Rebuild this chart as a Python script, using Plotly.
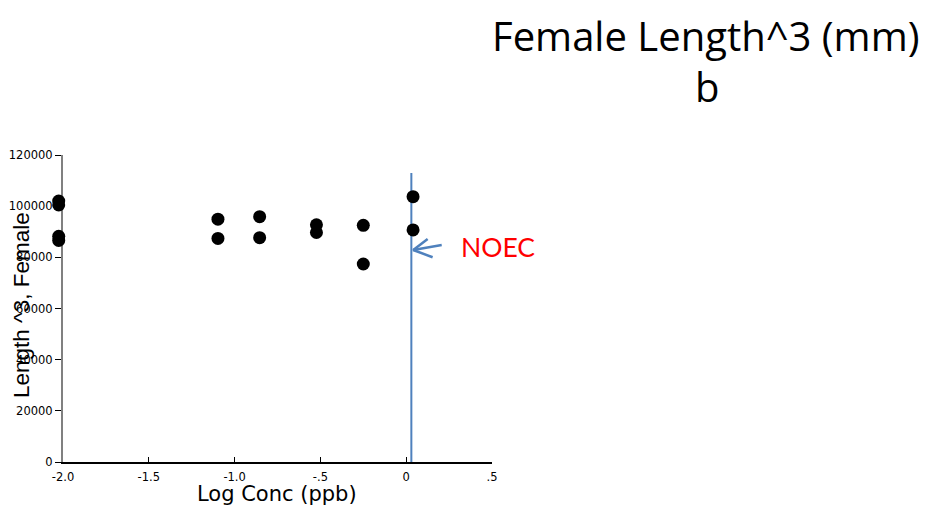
import plotly.graph_objects as go

# data
log_conc = [-2.025, -2.025, -2.025, -2.025,
            -1.097, -1.097, -0.854, -0.854,
            -0.523, -0.523, -0.25, -0.25,
            0.04, 0.04]
length3 = [102000, 100500, 88200, 86600,
           94900, 87400, 95900, 87700,
           92700, 89700, 92500, 77400,
           103700, 90700]

noec_x = [0.03, 0.03]
noec_y = [0, 113000]

# open arrow pointing at the NOEC line: arm, tip, arm, gap, tip, tail
arrow_x = [0.125, 0.041, 0.154, None, 0.041, 0.207]
arrow_y = [87170, 82870, 80020, None, 82870, 84830]

x_ticks = [-2.0, -1.5, -1.0, -0.5, 0, 0.5]
x_labels = ["-2.0", "-1.5", "-1.0", "-.5", "0", ".5"]
y_ticks = [0, 20000, 40000, 60000, 80000, 100000, 120000]
y_labels = [str(v) for v in y_ticks]

BLUE = "#4F81BD"
OFF = 8                 # the page body adds an 8px margin around the figure
W, H = 932 - 2 * OFF, 512 - OFF
# positions below are in screen pixels of the target picture
PLOT_L, PLOT_R, PLOT_T, PLOT_B = 40, 492, 155, 462
AXIS_LEFT = 63          # where the y axis sits (x = -2.0)
X_MIN, X_MAX = -2.0, 0.5

M_L, M_T = PLOT_L - OFF, PLOT_T - OFF
M_R, M_B = W - (PLOT_R - OFF), H - (PLOT_B - OFF)
plot_w = PLOT_R - PLOT_L
plot_h = PLOT_B - PLOT_T
px_per_unit = (PLOT_R - AXIS_LEFT) / (X_MAX - X_MIN)


def px(x, y):
    """screen pixel -> paper coordinates"""
    return (x - PLOT_L) / plot_w, (PLOT_B - y) / plot_h


fig = go.Figure()
fig.add_trace(
    go.Scatter(
        x=noec_x, y=noec_y, mode="lines",
        line={"color": BLUE, "width": 2},
        hoverinfo="skip",
    )
)
fig.add_trace(
    go.Scatter(
        x=arrow_x, y=arrow_y, mode="lines",
        line={"color": BLUE, "width": 2.5},
        cliponaxis=False, hoverinfo="skip",
    )
)
# dots sit on a hidden axis that reaches a little left of -2.0,
# so the control points left of the y axis are still drawn
fig.add_trace(
    go.Scatter(
        x=log_conc, y=length3, mode="markers",
        marker={"color": "black", "size": 13},
        cliponaxis=False, xaxis="x2",
    )
)

fig.add_annotation(
    x=0.31, y=84050, xref="x", yref="y",
    text="NOEC", showarrow=False, xanchor="left", yanchor="middle",
    font={"family": "Lato", "size": 26.5, "color": "#FF0000"},
)
title_font = {"family": "Open Sans", "size": 40, "color": "black"}
for text, cx, cy in [("Female Length^3 (mm)", 705, 35), ("b", 707, 87)]:
    tx, ty = px(cx, cy)
    fig.add_annotation(
        x=tx, y=ty, xref="paper", yref="paper",
        text=text, showarrow=False,
        xanchor="center", yanchor="middle", font=title_font,
    )
ax_, ay_ = px(21, 305)
fig.add_annotation(
    x=ax_, y=ay_, xref="paper", yref="paper",
    text="Length ^3, Female", showarrow=False, textangle=-90,
    xanchor="center", yanchor="middle",
    font={"family": "Liberation Sans", "size": 22.5, "color": "black"},
)
bx, by = px(277, 494)
fig.add_annotation(
    x=bx, y=by, xref="paper", yref="paper",
    text="Log Conc (ppb)", showarrow=False,
    xanchor="center", yanchor="middle",
    font={"family": "DejaVu Sans", "size": 21, "color": "black"},
)

fig.update_layout(
    width=W,
    height=H,
    margin={"l": M_L, "r": M_R, "t": M_T, "b": M_B},
    paper_bgcolor="white",
    plot_bgcolor="rgba(0,0,0,0)",
    showlegend=False,
    font={"family": "DejaVu Sans", "color": "black"},
    xaxis={
        "domain": [(AXIS_LEFT - PLOT_L) / plot_w, 1],
        "range": [X_MIN, X_MAX],
        "tickvals": x_ticks,
        "ticktext": x_labels,
        "ticks": "inside",
        "ticklen": 5,
        "tickcolor": "black",
        "ticklabelstandoff": 3,
        "showline": True,
        "linecolor": "black",
        "linewidth": 1.5,
        "showgrid": False,
        "zeroline": False,
        "automargin": False,
        "tickfont": {"size": 11.5},
    },
    xaxis2={
        "domain": [0, 1],
        "range": [X_MIN - (AXIS_LEFT - PLOT_L) / px_per_unit, X_MAX],
        "anchor": "y",
        "visible": False,
    },
    yaxis={
        "range": [0, 120000],
        "tickvals": y_ticks,
        "ticktext": y_labels,
        "ticks": "outside",
        "ticklen": 6,
        "tickcolor": "black",
        "showline": True,
        "linecolor": "#808080",
        "linewidth": 2,
        "showgrid": False,
        "zeroline": False,
        "automargin": False,
        "tickfont": {"size": 11.5},
    },
)

fig.write_html("out.html")
